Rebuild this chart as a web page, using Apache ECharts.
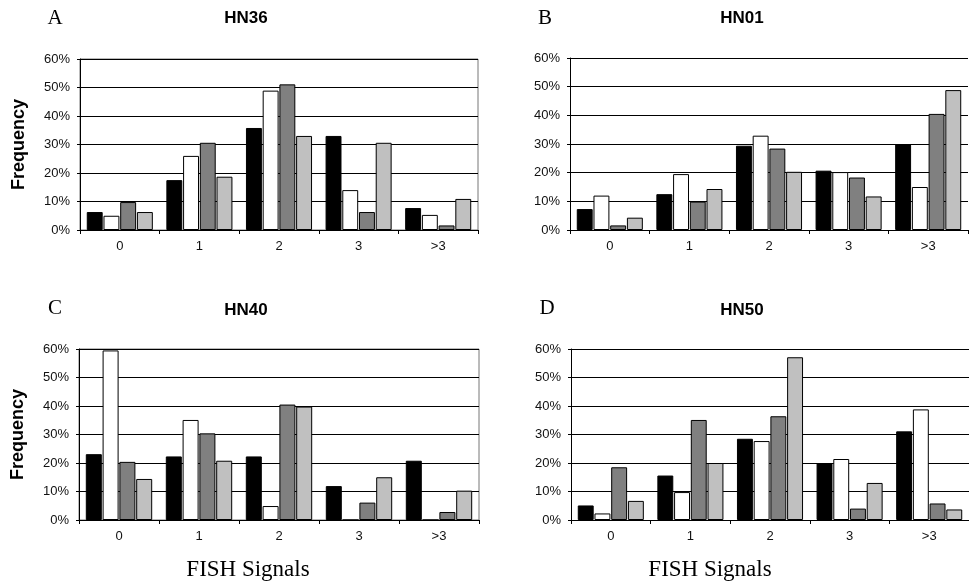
<!DOCTYPE html>
<html>
<head>
<meta charset="utf-8">
<script src="https://cdn.jsdelivr.net/npm/echarts@6/dist/echarts.min.js"></script>
<style>
  html, body { margin: 0; padding: 0; background: #fff; }
  #chart { width: 969px; height: 583px; }
</style>
</head>
<body>
<div id="chart"></div>
<script>
// ---- Data (percent) ----
const categories = ['0', '1', '2', '3', '>3'];
const yTicks = [0, 10, 20, 30, 40, 50, 60];

// HN36 (A)
const hn36Black = [6.3, 17.5, 35.8, 33.0, 7.7];
const hn36White = [5.0, 26.0, 48.9, 14.0, 5.3];
const hn36Dark  = [9.8, 30.6, 51.1, 6.3, 1.6];
const hn36Light = [6.3, 18.7, 33.0, 30.6, 10.9];

// HN01 (B)
const hn01Black = [7.3, 12.5, 29.4, 20.7, 29.8];
const hn01White = [12.0, 19.5, 32.9, 20.2, 15.0];
const hn01Dark  = [1.6, 9.9, 28.4, 18.3, 40.5];
const hn01Light = [4.3, 14.3, 20.3, 11.7, 48.8];

// HN40 (C)
const hn40Black = [23.1, 22.3, 22.3, 11.9, 20.8];
const hn40White = [59.5, 35.1, 4.9, 0, 0];
const hn40Dark  = [20.4, 30.4, 40.5, 6.1, 2.8];
const hn40Light = [14.4, 20.8, 39.8, 15.0, 10.3];

// HN50 (D)
const hn50Black = [5.1, 15.6, 28.5, 20.0, 31.1];
const hn50White = [2.3, 9.8, 27.7, 21.4, 38.8];
const hn50Dark  = [18.5, 35.1, 36.4, 4.0, 5.8];
const hn50Light = [6.7, 20.0, 57.1, 13.0, 3.7];

const panelTitles = ['HN36', 'HN01', 'HN40', 'HN50'];
const panelLetters = ['A', 'B', 'C', 'D'];
const xAxisTitle = 'FISH Signals';
const yAxisTitle = 'Frequency';

const panels = [
  [hn36Black, hn36White, hn36Dark, hn36Light],
  [hn01Black, hn01White, hn01Dark, hn01Light],
  [hn40Black, hn40White, hn40Dark, hn40Light],
  [hn50Black, hn50White, hn50Dark, hn50Light]
];
const barColors = ['#000000', '#ffffff', '#808080', '#c0c0c0'];

// ---- Layout ----
const grids = [
  { left: 80,  top: 59,  width: 398, height: 171 },
  { left: 570, top: 58,  width: 398, height: 172 },
  { left: 79,  top: 349, width: 400, height: 171 },
  { left: 571, top: 349, width: 398, height: 171 }
];
const showYName = [true, false, true, false];

const labelFont = 'Arial, "Liberation Sans", sans-serif';
const serifFont = '"Liberation Serif", "Times New Roman", serif';

const option = {
  animation: false,
  backgroundColor: '#ffffff',
  grid: grids.map((g, i) => Object.assign({}, g, {
    show: true,
    borderColor: (i % 2 === 0) ? '#777' : 'transparent',
    borderWidth: 1,
    backgroundColor: 'transparent'
  })),
  xAxis: grids.map((g, i) => ({
    type: 'category',
    gridIndex: i,
    data: categories,
    boundaryGap: true,
    axisLine: { show: true, lineStyle: { color: '#000', width: 1 } },
    axisTick: { show: true, alignWithLabel: false, length: 4, lineStyle: { color: '#000' } },
    axisLabel: { color: '#111', fontFamily: labelFont, fontSize: 13, margin: 10 },
    splitLine: { show: false }
  })),
  yAxis: grids.map((g, i) => ({
    type: 'value',
    gridIndex: i,
    min: yTicks[0],
    max: yTicks[yTicks.length - 1],
    interval: 10,
    name: showYName[i] ? yAxisTitle : '',
    nameLocation: 'middle',
    nameRotate: 90,
    nameGap: 52,
    nameTextStyle: { fontFamily: labelFont, fontWeight: 'bold', fontSize: 18, color: '#000' },
    axisLine: { show: true, lineStyle: { color: '#000', width: 1 } },
    axisTick: { show: true, length: 3, lineStyle: { color: '#000' } },
    axisLabel: { color: '#111', fontFamily: labelFont, fontSize: 13, margin: 10, formatter: '{value}%' },
    splitLine: { show: true, lineStyle: { color: '#000', width: 1 } }
  })),
  series: [],
  graphic: []
};

panels.forEach((sets, pi) => {
  sets.forEach((vals, si) => {
    option.series.push({
      type: 'bar',
      xAxisIndex: pi,
      yAxisIndex: pi,
      data: vals,
      barGap: '5%',
      barCategoryGap: '17%',
      itemStyle: { color: barColors[si], borderColor: '#000', borderWidth: 1 },
      emphasis: { disabled: true }
    });
  });
});

// Titles, panel letters and x-axis titles
const titlePos = [[246, 18], [742, 18], [246, 310], [742, 310]];
const letterPos = [[55, 18], [545, 18], [55, 308], [547, 308]];
titlePos.forEach((p, i) => {
  option.graphic.push({
    type: 'text', x: p[0], y: p[1],
    style: { text: panelTitles[i], font: 'bold 17px ' + labelFont, fill: '#000', textAlign: 'center', textVerticalAlign: 'middle' }
  });
  option.graphic.push({
    type: 'text', x: letterPos[i][0], y: letterPos[i][1],
    style: { text: panelLetters[i], font: '21px ' + serifFont, fill: '#000', textAlign: 'center', textVerticalAlign: 'middle' }
  });
});
[[248, 570], [710, 570]].forEach(p => {
  option.graphic.push({
    type: 'text', x: p[0], y: p[1],
    style: { text: xAxisTitle, font: '23px ' + serifFont, fill: '#000', textAlign: 'center', textVerticalAlign: 'middle' }
  });
});

const chart = echarts.init(document.getElementById('chart'), null, { renderer: 'canvas' });
chart.setOption(option);
</script>
</body>
</html>
